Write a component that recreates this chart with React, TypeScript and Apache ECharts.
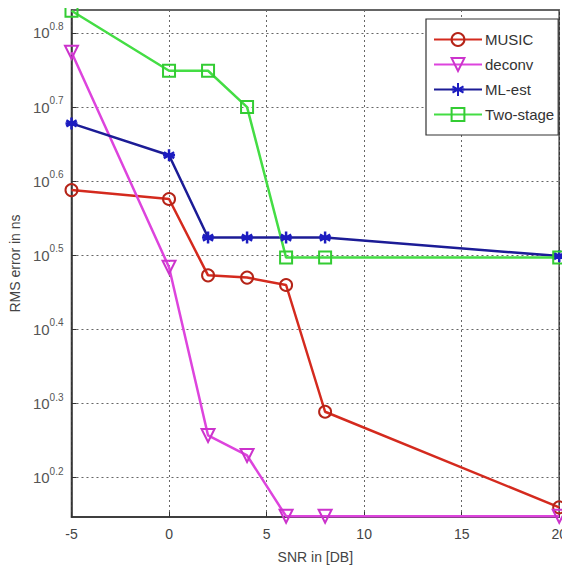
import React, { useEffect, useRef } from "react";
import * as echarts from "echarts";

const snr = [-5, 0, 2, 4, 6, 8, 20];
const music = [0.588, 0.576, 0.473, 0.47, 0.46, 0.289, 0.16];
const deconv = [0.774, 0.484, 0.257, 0.23, 0.148, 0.148, 0.148];
const mlEst = [0.678, 0.635, 0.524, 0.524, 0.524, 0.524, 0.499];
const twoStage = [0.83, 0.749, 0.749, 0.7, 0.497, 0.497, 0.497];
const yTicks = [0.2, 0.3, 0.4, 0.5, 0.6, 0.7, 0.8];

const pairs = (ys: number[]) => snr.map((x, i) => [x, ys[i]]);

export default function App() {
  const ref = useRef<HTMLDivElement>(null);
  useEffect(() => {
    if (!ref.current) return;
    const chart = echarts.init(ref.current, undefined, { renderer: "svg" });
    const font = "Liberation Sans, Arial, sans-serif";
    chart.setOption({
      animation: false,
      backgroundColor: "#fff",
      textStyle: { fontFamily: font },
      grid: {
        left: 69,
        right: 6,
        top: 10,
        bottom: 57,
        show: true,
        borderColor: "#333",
        borderWidth: 1.5,
        backgroundColor: "transparent",
      },
      legend: {
        orient: "vertical",
        left: 426,
        top: 19,
        padding: [13, 4, 13, 7],
        itemWidth: 48,
        itemHeight: 16,
        itemGap: 10,
        backgroundColor: "#fff",
        borderColor: "#333",
        borderWidth: 1.2,
        textStyle: { fontSize: 15, color: "#333", fontFamily: font, padding: [0, 0, 0, -2] },
        data: ["MUSIC", "deconv", "ML-est", "Two-stage"],
      },
      xAxis: {
        type: "value",
        min: -5,
        max: 20,
        interval: 5,
        name: "SNR in [DB]",
        nameLocation: "middle",
        nameGap: 33,
        nameTextStyle: { fontSize: 14, color: "#444", fontFamily: font },
        axisLine: { show: true, onZero: false, lineStyle: { color: "#333", width: 1.5 } },
        axisTick: { show: true, inside: true, length: 5, lineStyle: { color: "#333" } },
        axisLabel: { fontSize: 14, color: "#444", margin: 10, fontFamily: font },
        splitLine: { show: true, lineStyle: { color: "#666", type: [2, 3], width: 1 } },
      },
      yAxis: {
        type: "value",
        min: 0.147,
        max: 0.831,
        name: "RMS error in ns",
        nameLocation: "middle",
        nameGap: 49,
        nameTextStyle: { fontSize: 14, color: "#444", fontFamily: font },
        axisLine: { show: true, onZero: false, lineStyle: { color: "#333", width: 1.5 } },
        axisTick: { show: true, inside: true, length: 5, customValues: yTicks, lineStyle: { color: "#333" } },
        axisLabel: {
          customValues: yTicks,
          margin: 8,
          formatter: (v: number) => `{b|10}{s|${v.toFixed(1)}}`,
          rich: {
            b: { fontSize: 15, color: "#555", fontFamily: font },
            s: { fontSize: 10, color: "#555", fontFamily: font, padding: [0, 0, 13, 0] },
          },
        },
        splitLine: { show: true, lineStyle: { color: "#666", type: [2, 3], width: 1 } },
      },
      series: [
        {
          name: "MUSIC",
          type: "line",
          data: pairs(music),
          symbol: "circle",
          symbolSize: 12,
          lineStyle: { color: "#d42a1e", width: 2.5 },
          itemStyle: { color: "rgba(255,255,255,0)", borderColor: "#b52418", borderWidth: 2 },
        },
        {
          name: "deconv",
          type: "line",
          data: pairs(deconv),
          symbol: "path://M0,0L10,0L5,9Z",
          symbolSize: 13,
          lineStyle: { color: "#dd44dd", width: 2.5 },
          itemStyle: { color: "rgba(255,255,255,0)", borderColor: "#cc33cc", borderWidth: 2 },
        },
        {
          name: "ML-est",
          type: "line",
          data: pairs(mlEst),
          symbol: "path://M5,0L5,10M0.7,2.5L9.3,7.5M0.7,7.5L9.3,2.5M0,5L10,5",
          symbolSize: 12,
          lineStyle: { color: "#1c1c96", width: 2.5 },
          itemStyle: { color: "#1c1cc0", borderColor: "#1c1cc0", borderWidth: 2.5 },
        },
        {
          name: "Two-stage",
          type: "line",
          data: pairs(twoStage),
          symbol: "rect",
          symbolSize: 12,
          lineStyle: { color: "#44dd44", width: 2.5 },
          itemStyle: { color: "rgba(255,255,255,0)", borderColor: "#33cc33", borderWidth: 2 },
        },
      ],
    });
    return () => chart.dispose();
  }, []);
  return <div ref={ref} style={{ width: 570, height: 574, marginLeft: -8, marginTop: -8 }} />;
}
